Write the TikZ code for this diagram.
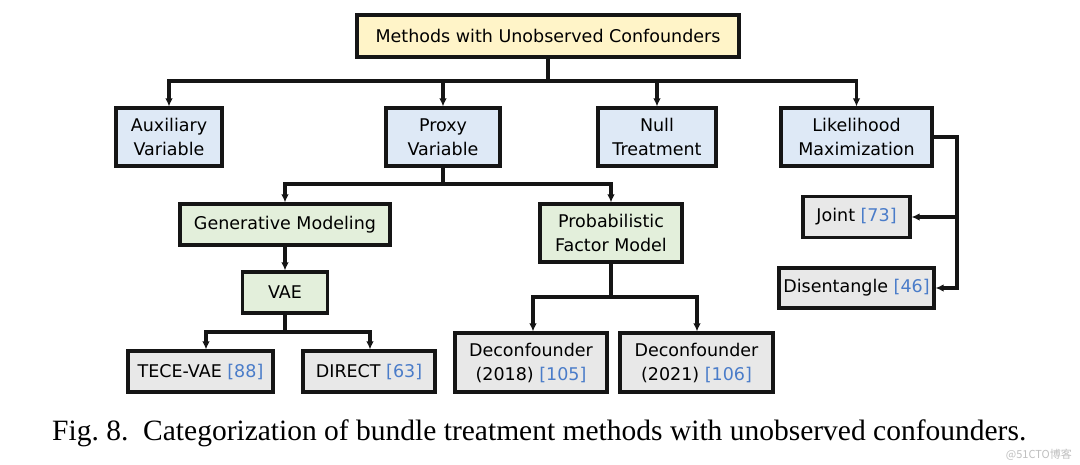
\documentclass[tikz,border=0pt]{standalone}
\usepackage{fontspec}
\setmainfont{DejaVu Sans}
\newfontfamily\capfont{Liberation Serif}
\newfontfamily\cjkfont{Noto Sans CJK SC}
\usetikzlibrary{arrows.meta}
\definecolor{rootfill}{HTML}{FFF4C8}
\definecolor{bluefill}{HTML}{DEE9F6}
\definecolor{greenfill}{HTML}{E3EFDB}
\definecolor{grayfill}{HTML}{E8E8E8}
\definecolor{citeblue}{HTML}{4A7CC9}
\definecolor{edge}{HTML}{151515}
\newcommand{\cit}[1]{\textcolor{citeblue}{[#1]}}
\tikzset{
  box/.style={draw=edge, line width=3.05pt, rectangle, inner sep=0pt, align=center,
    font=\fontsize{17.5}{24}\selectfont, text=black},
  arr/.style={draw=edge, line width=3.05pt, -{Latex[length=8pt,width=7.5pt]}},
}
\begin{document}
\begin{tikzpicture}[x=1pt,y=-1pt]
\useasboundingbox[fill=white] (0,0) rectangle (1080,464);
% nodes
\node[box, fill=rootfill, minimum width=382pt, minimum height=42pt] (root) at (548,36) {Methods with Unobserved Confounders};
\node[box, fill=bluefill, minimum width=106pt, minimum height=58pt] (aux) at (169,137) {Auxiliary\\Variable};
\node[box, fill=bluefill, minimum width=114pt, minimum height=58pt] (proxy) at (443,137) {Proxy\\Variable};
\node[box, fill=bluefill, minimum width=118pt, minimum height=58pt] (null) at (657,137) {Null\\Treatment};
\node[box, fill=bluefill, minimum width=151pt, minimum height=58pt] (lik) at (856.5,137) {Likelihood\\Maximization};
\node[box, fill=greenfill, minimum width=210pt, minimum height=41pt] (gen) at (285,224.5) {Generative Modeling};
\node[box, fill=greenfill, minimum width=142pt, minimum height=58pt] (pfm) at (611,233) {Probabilistic\\Factor Model};
\node[box, fill=greenfill, minimum width=85pt, minimum height=41pt] (vae) at (285,292.5) {VAE};
\node[box, fill=grayfill, minimum width=107pt, minimum height=41pt] (joint) at (856.5,217) {Joint \cit{73}};
\node[box, fill=grayfill, minimum width=155pt, minimum height=40pt] (dis) at (856.5,288) {Disentangle \cit{46}};
\node[box, fill=grayfill, minimum width=145pt, minimum height=41pt] (tece) at (200.5,371.5) {TECE-VAE \cit{88}};
\node[box, fill=grayfill, minimum width=132pt, minimum height=41pt] (direct) at (369,371.5) {DIRECT \cit{63}};
\node[box, fill=grayfill, minimum width=152pt, minimum height=59pt] (d18) at (531,362.5) {Deconfounder\\(2018) \cit{105}};
\node[box, fill=grayfill, minimum width=153pt, minimum height=59pt] (d21) at (696.5,362.5) {Deconfounder\\(2021) \cit{106}};
% helper coordinates
\coordinate (bar1) at (0,81);
\coordinate (bar2) at (0,184);
\coordinate (bar3) at (0,332);
\coordinate (bar4) at (0,297);
\coordinate (rl) at (957,0);
\coordinate (ta) at (206,0);
\coordinate (da) at (370,0);
\coordinate (pa) at (533,0);
\coordinate (pb) at (697,0);
% connectors
\foreach \c in {aux,proxy,null,lik}
  \draw[arr] (root.south) |- (bar1 -| \c) -- (\c.north);
\draw[arr] (proxy.south) |- (bar2 -| gen) -- (gen.north);
\draw[arr] (proxy.south) |- (bar2 -| pfm) -- (pfm.north);
\draw[arr] (gen.south) -- (vae.north);
\draw[arr] (vae.south) |- (bar3 -| ta) -- (ta |- tece.north);
\draw[arr] (vae.south) |- (bar3 -| da) -- (da |- direct.north);
\draw[arr] (pfm.south) |- (bar4 -| pa) -- (pa |- d18.north);
\draw[arr] (pfm.south) |- (bar4 -| pb) -- (pb |- d21.north);
\draw[arr] (lik.east) -| (rl |- dis) -- (dis.east);
\draw[arr] (rl |- joint) -- (joint.east);
% caption
\node[anchor=base west, inner sep=0pt, font=\capfont\fontsize{29.5}{32}\selectfont] (cap) at (52,440) {Fig.~8.\ \ Categorization of bundle treatment methods with unobserved confounders.};
\node[anchor=base east, inner sep=0pt, text=black!25, font=\cjkfont\fontsize{11}{12}\selectfont] (wm) at (1072,458) {@51CTO博客};
\end{tikzpicture}
\end{document}
